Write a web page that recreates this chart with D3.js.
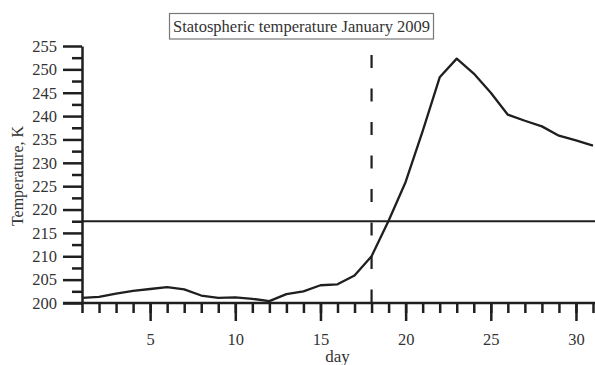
<!DOCTYPE html>
<html>
<head>
<meta charset="utf-8">
<script src="https://cdn.jsdelivr.net/npm/d3@7"></script>
<style>
  body { margin: 0; background: #fff; }
  svg text { font-family: "Liberation Serif", "Times New Roman", serif; fill: #333; }
</style>
</head>
<body>
<svg id="chart" width="595" height="365"></svg>
<script>
// data
const days = [1,2,3,4,5,6,7,8,9,10,11,12,13,14,15,16,17,18,19,20,21,22,23,24,25,26,27,28,29,30,31];
const temps = [201.1,201.3,202.0,202.6,203.0,203.4,202.9,201.6,201.1,201.2,200.9,200.4,201.9,202.5,203.8,204.0,205.9,210.0,217.6,225.9,236.8,248.3,252.3,249.1,245.0,240.3,239.0,237.8,235.8,234.8,233.7];
const threshold = 217.5;
const markerDay = 18;
const yMajorTicks = [200,205,210,215,220,225,230,235,240,245,250,255];
const yMinorTicks = [202.5,207.5,212.5,217.5,222.5,227.5,232.5,237.5,242.5,247.5,252.5];
const xMajorTicks = [5,10,15,20,25,30];
const title = "Statospheric temperature January 2009";

const svg = d3.select("#chart");

const x = d3.scaleLinear().domain([1, 31]).range([82, 593]);
const y = d3.scaleLinear().domain([200, 255]).range([303, 46]);

const ink = "#1f1f1f";

// y axis: minor ticks, then majors with labels
svg.append("g")
    .attr("transform", `translate(${x(1)},0)`)
    .call(d3.axisLeft(y).tickValues(yMinorTicks).tickSize(10).tickFormat(""))
    .call(g => g.select(".domain").remove())
    .call(g => g.selectAll("line").attr("stroke", ink).attr("stroke-width", 2.5));

svg.append("g")
    .attr("transform", `translate(${x(1)},0)`)
    .call(d3.axisLeft(y).tickValues(yMajorTicks).tickSize(19).tickPadding(6).tickSizeOuter(0))
    .call(g => g.select(".domain").attr("stroke", ink).attr("stroke-width", 2.5))
    .call(g => g.selectAll("line").attr("stroke", ink).attr("stroke-width", 2.5))
    .call(g => g.selectAll("text").attr("font-size", "16.5px").attr("fill", "#333")
        .style("font-family", "'Liberation Serif', serif"));

// x axis: minor ticks every day, majors every 5
svg.append("g")
    .attr("transform", `translate(0,${y(200)})`)
    .call(d3.axisBottom(x).tickValues(days).tickSize(10).tickFormat(""))
    .call(g => g.select(".domain").remove())
    .call(g => g.selectAll("line").attr("stroke", ink).attr("stroke-width", 2.5));

svg.append("g")
    .attr("transform", `translate(0,${y(200)})`)
    .call(d3.axisBottom(x).tickValues(xMajorTicks).tickSize(18).tickPadding(12).tickSizeOuter(0))
    .call(g => g.select(".domain").remove())
    .call(g => g.selectAll("line").attr("stroke", ink).attr("stroke-width", 2.5))
    .call(g => g.selectAll("text").attr("font-size", "16.5px").attr("fill", "#333")
        .style("font-family", "'Liberation Serif', serif"));

// x axis baseline runs from the 200 tick out to the right edge
svg.append("line")
    .attr("x1", x(1) - 19).attr("x2", 595)
    .attr("y1", y(200)).attr("y2", y(200))
    .attr("stroke", ink).attr("stroke-width", 2.5);

// threshold line
svg.append("line")
    .attr("x1", x(1)).attr("x2", 595)
    .attr("y1", y(threshold)).attr("y2", y(threshold))
    .attr("stroke", ink).attr("stroke-width", 2);

// dashed marker at day 18
svg.append("line")
    .attr("x1", x(markerDay)).attr("x2", x(markerDay))
    .attr("y1", 55).attr("y2", y(200))
    .attr("stroke", ink).attr("stroke-width", 2.2)
    .attr("stroke-dasharray", "13,20.5");

// temperature curve
const line = d3.line()
    .x((d, i) => x(days[i]))
    .y(d => y(d));

svg.append("path")
    .datum(temps)
    .attr("d", line)
    .attr("fill", "none")
    .attr("stroke", ink)
    .attr("stroke-width", 2.3)
    .attr("stroke-linejoin", "round");

// axis titles
svg.append("text")
    .attr("x", (x(1) + x(31)) / 2).attr("y", 362)
    .attr("text-anchor", "middle")
    .attr("font-size", "17px")
    .text("day");

svg.append("text")
    .attr("transform", "translate(23,176) rotate(-90)")
    .attr("text-anchor", "middle")
    .attr("font-size", "16px")
    .text("Temperature, K");

// title in a box
svg.append("rect")
    .attr("x", 169.5).attr("y", 13.5)
    .attr("width", 264).attr("height", 25.5)
    .attr("fill", "#fff")
    .attr("stroke", "#777").attr("stroke-width", 1.2);

svg.append("text")
    .attr("x", 301.5).attr("y", 31.5)
    .attr("text-anchor", "middle")
    .attr("font-size", "16.5px")
    .text(title);
</script>
</body>
</html>
